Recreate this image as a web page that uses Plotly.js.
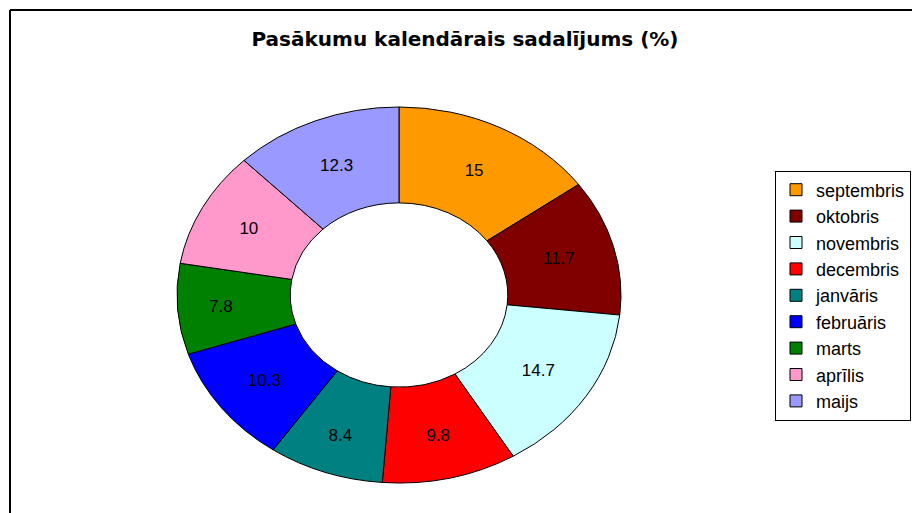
<!DOCTYPE html>
<html>
<head>
<meta charset="utf-8">
<script src="https://cdn.plot.ly/plotly-3.0.1.min.js"></script>
<style>
  html, body { margin: 0; padding: 0; background: #fff; overflow: hidden; }
  #chart { width: 912px; height: 513px; }
</style>
</head>
<body>
<div id="chart"></div>
<script>
// ---- data ----
const months = ['septembris', 'oktobris', 'novembris', 'decembris', 'janvāris', 'februāris', 'marts', 'aprīlis', 'maijs'];
const shares = [15, 11.7, 14.7, 9.8, 8.4, 10.3, 7.8, 10, 12.3];
const sliceColors = ['#FF9900', '#800000', '#CCFFFF', '#FF0000', '#008080', '#0000FF', '#008000', '#FF99CC', '#9999FF'];
const chartTitle = 'Pasākumu kalendārais sadalījums (%)';

const W = 912, H = 513;
const cxPx = 399, cyPx = 295, rPx = 188;      // pie centre / vertical radius in page pixels
const stretchX = 222 / 188;                    // reference pie is an ellipse

const data = [{
  type: 'pie',
  labels: months,
  values: shares,
  sort: false,
  direction: 'clockwise',
  rotation: 0,
  hole: 0.49,
  marker: { colors: sliceColors, line: { color: '#000', width: 1 } },
  textinfo: 'value',
  textposition: 'inside',
  insidetextorientation: 'horizontal',
  textfont: { family: 'Liberation Sans, Arial, sans-serif', size: 17, color: '#000' },
  domain: {
    x: [(cxPx - rPx) / W, (cxPx + rPx) / W],
    y: [(H - cyPx - rPx) / H, (H - cyPx + rPx) / H]
  },
  hoverinfo: 'none'
}];

const layout = {
  width: W, height: H,
  margin: { l: 0, r: 0, t: 0, b: 0 },
  paper_bgcolor: '#fff',
  plot_bgcolor: '#fff',
  title: {
    text: '<b>' + chartTitle + '</b>',
    font: { family: 'DejaVu Sans, sans-serif', size: 20, color: '#000' },
    x: 465 / W, xanchor: 'center',
    y: 1 - 39 / H, yanchor: 'middle', yref: 'container', xref: 'container'
  },
  showlegend: true,
  legend: {
    x: 911 / W, xanchor: 'right',
    y: (H - 295.5) / H, yanchor: 'middle',
    bgcolor: '#fff', bordercolor: '#000', borderwidth: 1,
    font: { family: 'Liberation Sans, Arial, sans-serif', size: 18, color: '#000' },
    traceorder: 'normal'
  },
  shapes: [
    { type: 'line', xref: 'paper', yref: 'paper', x0: 10 / W, x1: 10 / W, y0: 0, y1: 1 - 10 / H, line: { color: '#000', width: 2 } },
    { type: 'line', xref: 'paper', yref: 'paper', x0: 10 / W, x1: 1, y0: 1 - 10 / H, y1: 1 - 10 / H, line: { color: '#000', width: 2 } }
  ]
};

Plotly.newPlot('chart', data, layout, { staticPlot: true, displayModeBar: false }).then(function () {
  const paths = document.querySelectorAll('.pielayer g.slice path.surface');
  let minX = Infinity, maxX = -Infinity;
  paths.forEach(function (p) {
    const b = p.getBBox();
    minX = Math.min(minX, b.x); maxX = Math.max(maxX, b.x + b.width);
  });
  const cx = (minX + maxX) / 2;
  document.querySelectorAll('.pielayer g.slice').forEach(function (g) {
    const p = g.querySelector('path.surface');
    if (p) {
      p.setAttribute('transform', 'translate(' + cx + ',0) scale(' + stretchX + ',1) translate(' + (-cx) + ',0)');
      p.style.vectorEffect = 'non-scaling-stroke';
    }
    const t = g.querySelector('g.slicetext');
    if (t) {
      const bb = t.getBBox();
      const dx = (bb.x + bb.width / 2 - cx) * (stretchX - 1);
      t.setAttribute('transform', 'translate(' + dx + ',0) ' + (t.getAttribute('transform') || ''));
    }
  });
});
</script>
</body>
</html>
